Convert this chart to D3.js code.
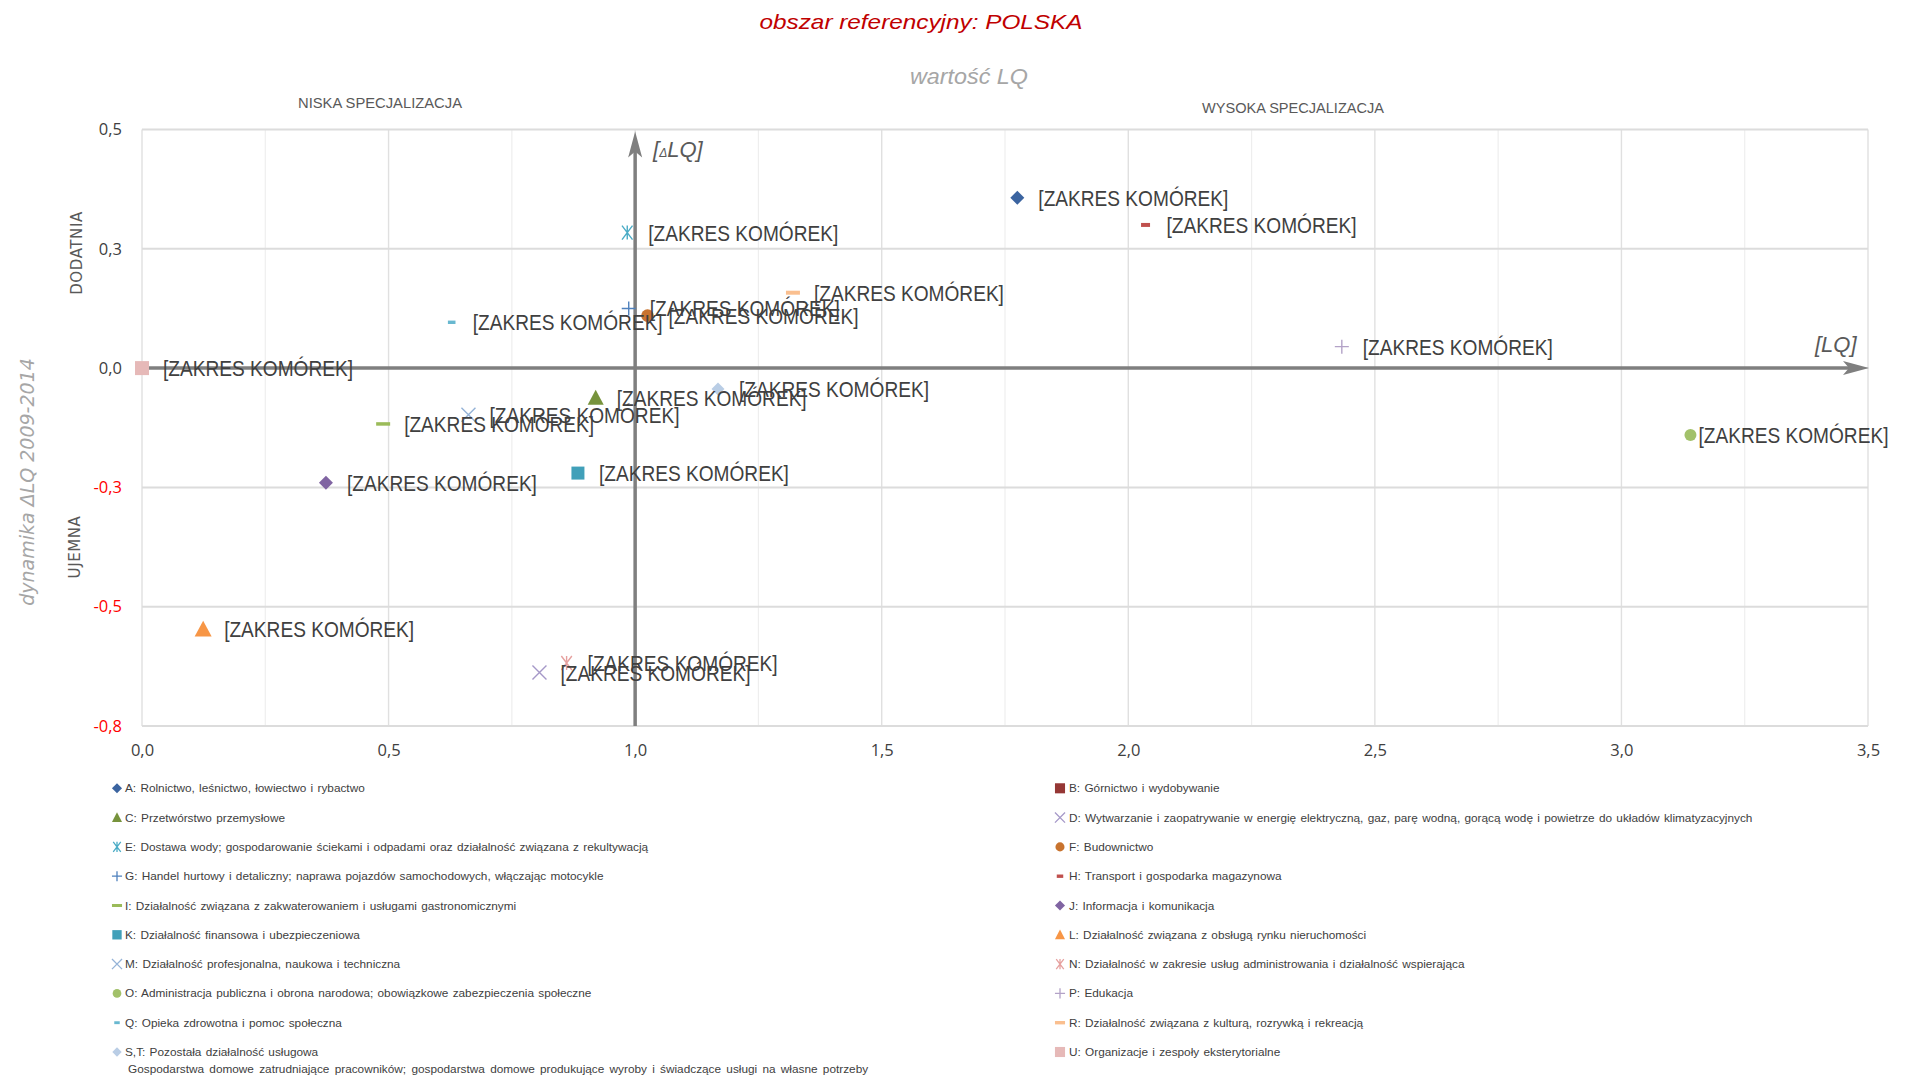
<!DOCTYPE html>
<html><head><meta charset="utf-8">
<script src="https://cdn.jsdelivr.net/npm/d3@7"></script>
<style>body{margin:0;background:#fff} svg{display:block}</style>
</head><body><svg id="c" width="1907" height="1076"></svg>
<script>
// ---------------- DATA ----------------
const codes = ["A","B","C","D","E","F","G","H","I","J","K","L","M","N","O","P","Q","R","S,T","U"];
const names = [
  "A: Rolnictwo, leśnictwo, łowiectwo i rybactwo",
  "B: Górnictwo i wydobywanie",
  "C: Przetwórstwo przemysłowe",
  "D: Wytwarzanie i zaopatrywanie w energię elektryczną, gaz, parę wodną, gorącą wodę i powietrze do układów klimatyzacyjnych",
  "E: Dostawa wody; gospodarowanie ściekami i odpadami oraz działalność związana z rekultywacją",
  "F: Budownictwo",
  "G: Handel hurtowy i detaliczny; naprawa pojazdów samochodowych, włączając motocykle",
  "H: Transport i gospodarka magazynowa",
  "I: Działalność związana z zakwaterowaniem i usługami gastronomicznymi",
  "J: Informacja i komunikacja",
  "K: Działalność finansowa i ubezpieczeniowa",
  "L: Działalność związana z obsługą rynku nieruchomości",
  "M: Działalność profesjonalna, naukowa i techniczna",
  "N: Działalność w zakresie usług administrowania i działalność wspierająca",
  "O: Administracja publiczna i obrona narodowa; obowiązkowe zabezpieczenia społeczne",
  "P: Edukacja",
  "Q: Opieka zdrowotna i pomoc społeczna",
  "R: Działalność związana z kulturą, rozrywką i rekreacją",
  "S,T: Pozostała działalność usługowa",
  "U: Organizacje i zespoły eksterytorialne"
];
const nameSecondLine = {"S,T": "Gospodarstwa domowe zatrudniające pracowników; gospodarstwa domowe produkujące wyroby i świadczące usługi na własne potrzeby"};
// LQ value (x) and ΔLQ 2009-2014 (y)
const lqValues  = [1.775, null, 0.920, 0.806, 0.984, 1.025, 0.987, 2.035, 0.489, 0.373, 0.884, 0.124, 0.662, 0.861, 3.140, 2.433, 0.628, 1.320, 1.168, 0.000];
const dlqValues = [0.357, null, -0.062, -0.638, 0.284, 0.110, 0.125, 0.300, -0.117, -0.240, -0.220, -0.547, -0.098, -0.618, -0.140, 0.045, 0.096, 0.158, -0.044, 0.000];
const pointLabel = "[ZAKRES KOMÓREK]";
const xTickValues = [0, 0.5, 1, 1.5, 2, 2.5, 3, 3.5];
const xTickLabels = ["0,0","0,5","1,0","1,5","2,0","2,5","3,0","3,5"];
const yTickValues = [-0.75, -0.5, -0.25, 0, 0.25, 0.5];
const yTickLabels = ["-0,8","-0,5","-0,3","0,0","0,3","0,5"];
const xMinorTicks = [0.25, 0.75, 1.25, 1.75, 2.25, 2.75, 3.25];

// ---------------- STYLES ----------------
const markerStyle = {
  "A":  {shape:"diamond",  color:"#3b64a0", size:7},
  "B":  {shape:"square",   color:"#953735", size:7},
  "C":  {shape:"triangle", color:"#77933c", size:8},
  "D":  {shape:"x",        color:"#a598c8", size:7},
  "E":  {shape:"asterisk", color:"#4bacc6", size:7},
  "F":  {shape:"circle",   color:"#c8732e", size:6.3},
  "G":  {shape:"plus",     color:"#4f81bd", size:7},
  "H":  {shape:"dash",     color:"#c0504d", size:4.5, th:4},
  "I":  {shape:"dash",     color:"#9bbb59", size:7, th:3.5},
  "J":  {shape:"diamond",  color:"#8064a2", size:7},
  "K":  {shape:"square",   color:"#41a0b9", size:6.5},
  "L":  {shape:"triangle", color:"#f79646", size:8.5},
  "M":  {shape:"x",        color:"#95b3d7", size:7},
  "N":  {shape:"asterisk", color:"#e6a19f", size:7},
  "O":  {shape:"circle",   color:"#a2c16a", size:6},
  "P":  {shape:"plus",     color:"#b3a2c7", size:7},
  "Q":  {shape:"dash",     color:"#68b8d0", size:3.8, th:3.4},
  "R":  {shape:"dash",     color:"#fabf8f", size:7, th:4},
  "S,T":{shape:"diamond",  color:"#b9cde5", size:6.5},
  "U":  {shape:"square",   color:"#e6b9b8", size:7}
};
const labelDx = {"O": 8};

function symbolPath(shape, s, th) {
  switch (shape) {
    case "diamond": return `M0,${-s}L${s},0L0,${s}L${-s},0Z`;
    case "square": return `M${-s},${-s}H${s}V${s}H${-s}Z`;
    case "triangle": { const h = s*1.75; return `M0,${-h/2-1}L${s},${h/2}L${-s},${h/2}Z`; }
    case "circle": return d3.arc()({innerRadius:0, outerRadius:s, startAngle:0, endAngle:2*Math.PI});
    case "plus": return `M${-s},0H${s}M0,${-s}V${s}`;
    case "x": return `M${-s},${-s}L${s},${s}M${-s},${s}L${s},${-s}`;
    case "asterisk": return `M${-s*0.75},${-s}L${s*0.75},${s}M${-s*0.75},${s}L${s*0.75},${-s}M0,${-s}V${s}`;
    case "dash": return `M${-s},${-th/2}H${s}V${th/2}H${-s}Z`;
  }
}
const strokeShapes = new Set(["plus","x","asterisk"]);

// ---------------- CHART ----------------
const svg = d3.select("#c");
const x = d3.scaleLinear().domain([0, 3.5]).range([142, 1868]);
const y = d3.scaleLinear().domain([-0.75, 0.5]).range([726, 129.5]);

// gridlines
const grid = svg.append("g");
grid.selectAll("line.vmin").data(xMinorTicks).join("line")
  .attr("x1", d => x(d)).attr("x2", d => x(d)).attr("y1", y(0.5)).attr("y2", y(-0.75))
  .attr("stroke", "#eeeeee").attr("stroke-width", 1.2);
grid.selectAll("line.vmaj").data(xTickValues).join("line")
  .attr("x1", d => x(d)).attr("x2", d => x(d)).attr("y1", y(0.5)).attr("y2", y(-0.75))
  .attr("stroke", "#e0e0e0").attr("stroke-width", 1.4);
grid.selectAll("line.h").data(yTickValues).join("line")
  .attr("x1", x(0)).attr("x2", x(3.5)).attr("y1", d => y(d)).attr("y2", d => y(d))
  .attr("stroke", "#dcdcdc").attr("stroke-width", 2);

// axes tick labels
const xAxis = svg.append("g").attr("transform", `translate(0,${y(-0.75)})`)
  .call(d3.axisBottom(x).tickValues(xTickValues).tickSize(0).tickPadding(18)
    .tickFormat((d, i) => xTickLabels[i]));
xAxis.select(".domain").remove();
xAxis.selectAll("text").attr("font-family", "'Open Sans', sans-serif").attr("font-size", 16.5).attr("fill", "#404040");

const yAxis = svg.append("g").attr("transform", `translate(${x(0)},0)`)
  .call(d3.axisLeft(y).tickValues(yTickValues).tickSize(0).tickPadding(20)
    .tickFormat((d, i) => yTickLabels[i]));
yAxis.select(".domain").remove();
yAxis.selectAll("text").attr("font-family", "'Open Sans', sans-serif").attr("font-size", 16.5)
  .attr("fill", d => d < 0 ? "#ff0000" : "#404040");

// arrows
const arrowColor = "#7f7f7f";
const ax = svg.append("g");
ax.append("line").attr("x1", x(0)).attr("x2", x(3.5) - 18).attr("y1", y(0)).attr("y2", y(0))
  .attr("stroke", arrowColor).attr("stroke-width", 3.5);
ax.append("path").attr("fill", arrowColor)
  .attr("d", `M${x(3.5)+1},${y(0)}L${x(3.5)-25},${y(0)-7}L${x(3.5)-19},${y(0)}L${x(3.5)-25},${y(0)+7}Z`);
ax.append("line").attr("x1", x(1)).attr("x2", x(1)).attr("y1", y(-0.75)).attr("y2", y(0.5) + 20)
  .attr("stroke", arrowColor).attr("stroke-width", 3.5);
ax.append("path").attr("fill", arrowColor)
  .attr("d", `M${x(1)},${y(0.5)+2}L${x(1)-7},${y(0.5)+28}L${x(1)},${y(0.5)+22}L${x(1)+7},${y(0.5)+28}Z`);

// points
const pts = codes.map((c, i) => ({code: c, lq: lqValues[i], dlq: dlqValues[i]}))
  .filter(d => d.lq != null && d.dlq != null);
const pg = svg.append("g");
pg.selectAll("path").data(pts).join("path")
  .attr("transform", d => `translate(${x(d.lq)},${y(d.dlq)})`)
  .attr("d", d => { const m = markerStyle[d.code]; return symbolPath(m.shape, m.size, m.th); })
  .attr("fill", d => strokeShapes.has(markerStyle[d.code].shape) ? "none" : markerStyle[d.code].color)
  .attr("stroke", d => strokeShapes.has(markerStyle[d.code].shape) ? markerStyle[d.code].color : "none")
  .attr("stroke-width", 1.4);

// point labels
svg.append("g").selectAll("text").data(pts).join("text")
  .attr("x", d => x(d.lq) + (labelDx[d.code] ?? 21))
  .attr("y", d => y(d.dlq) + 8)
  .attr("font-family", "'Liberation Sans', Arial, sans-serif").attr("font-size", 22)
  .attr("textLength", 190).attr("lengthAdjust", "spacingAndGlyphs")
  .attr("fill", "#404040").text(pointLabel);

// axis captions
svg.append("text").attr("x", 653).attr("y", 157)
  .attr("font-family", "'Liberation Sans', sans-serif").attr("font-style", "italic").attr("font-size", 22).attr("fill", "#595959")
  .call(t => { t.append("tspan").text("["); t.append("tspan").attr("font-size", 12).text("Δ"); t.append("tspan").text("LQ]"); });
svg.append("text").attr("x", 1815).attr("y", 352)
  .attr("font-family", "'Liberation Sans', sans-serif").attr("font-style", "italic").attr("font-size", 22).attr("fill", "#595959")
  .text("[LQ]");

// titles
svg.append("text").attr("x", 921).attr("y", 29).attr("text-anchor", "middle")
  .attr("font-family", "'Liberation Sans', sans-serif").attr("font-style", "italic").attr("font-size", 21)
  .attr("textLength", 323).attr("lengthAdjust", "spacingAndGlyphs")
  .attr("fill", "#c00000").text("obszar referencyjny: POLSKA");
svg.append("text").attr("x", 969).attr("y", 84).attr("text-anchor", "middle")
  .attr("font-family", "'Liberation Sans', sans-serif").attr("font-style", "italic").attr("font-size", 22)
  .attr("textLength", 118).attr("lengthAdjust", "spacingAndGlyphs")
  .attr("fill", "#a6a6a6").text("wartość LQ");
svg.append("text").attr("x", 298).attr("y", 108)
  .attr("font-family", "'Liberation Sans', sans-serif").attr("font-size", 14)
  .attr("textLength", 164).attr("lengthAdjust", "spacingAndGlyphs")
  .attr("fill", "#595959").text("NISKA SPECJALIZACJA");
svg.append("text").attr("x", 1202).attr("y", 113)
  .attr("font-family", "'Liberation Sans', sans-serif").attr("font-size", 14)
  .attr("textLength", 182).attr("lengthAdjust", "spacingAndGlyphs")
  .attr("fill", "#595959").text("WYSOKA SPECJALIZACJA");

svg.append("text").attr("transform", "translate(34,482) rotate(-90)").attr("text-anchor", "middle")
  .attr("font-family", "'DejaVu Sans', sans-serif").attr("font-style", "italic").attr("font-size", 19)
  .attr("font-weight", 300).attr("fill", "#a6a6a6").text("dynamika ΔLQ 2009-2014");
svg.append("text").attr("transform", "translate(82,253) rotate(-90)").attr("text-anchor", "middle")
  .attr("font-family", "'DejaVu Sans', sans-serif").attr("font-size", 15).attr("letter-spacing", 0.6)
  .attr("fill", "#595959").text("DODATNIA");
svg.append("text").attr("transform", "translate(80,547) rotate(-90)").attr("text-anchor", "middle")
  .attr("font-family", "'DejaVu Sans', sans-serif").attr("font-size", 15).attr("letter-spacing", 0.6)
  .attr("fill", "#595959").text("UJEMNA");

// legend
const legend = svg.append("g");
const legItems = codes.map((c, i) => ({code: c, name: names[i], col: i % 2, row: Math.floor(i / 2)}));
const lg = legend.selectAll("g").data(legItems).join("g")
  .attr("transform", d => `translate(${d.col === 0 ? 117 : 1060},${788.3 + d.row * 29.3})`);
lg.append("path")
  .attr("d", d => { const m = markerStyle[d.code]; return symbolPath(m.shape, Math.min(m.size, 7) * 0.72, (m.th || 3) * 0.85); })
  .attr("fill", d => strokeShapes.has(markerStyle[d.code].shape) ? "none" : markerStyle[d.code].color)
  .attr("stroke", d => strokeShapes.has(markerStyle[d.code].shape) ? markerStyle[d.code].color : "none")
  .attr("stroke-width", 1.3);
lg.append("text").attr("x", d => d.col === 0 ? 8 : 9).attr("y", 4)
  .attr("font-family", "'Liberation Sans', sans-serif").attr("font-size", 11.8).attr("word-spacing", 1).attr("fill", "#404040")
  .text(d => d.name);
lg.filter(d => nameSecondLine[d.code]).append("text").attr("x", 11).attr("y", 21)
  .attr("font-family", "'Liberation Sans', sans-serif").attr("font-size", 11.8).attr("word-spacing", 2).attr("fill", "#404040")
  .text(d => nameSecondLine[d.code]);
</script></body></html>
